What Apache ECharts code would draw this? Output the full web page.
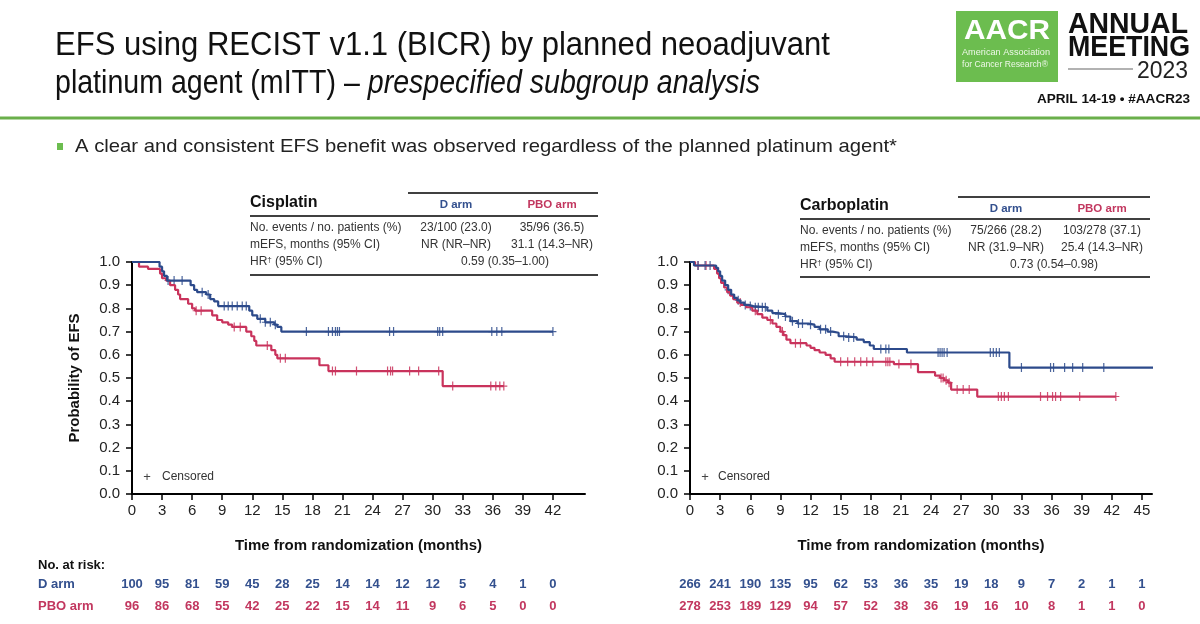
<!DOCTYPE html>
<html>
<head>
<meta charset="utf-8">
<script src="https://cdn.jsdelivr.net/npm/echarts@6/dist/echarts.min.js"></script>
<style>
  html, body { margin: 0; padding: 0; background: #fff; }
  #main { width: 1200px; height: 624px; }
</style>
</head>
<body>
<div id="main"></div>
<script>
// ---- data ----
// Cisplatin subgroup
var cisD_t = [0, 2.75, 3.0, 3.2, 3.5, 5.85, 6.2, 6.5, 7.4, 7.8, 8.2, 8.6, 11.7, 12.0, 12.5, 13.3, 14.2, 14.5, 14.9, 42.0];
var cisD_s = [1.0, 0.98, 0.96, 0.94, 0.92, 0.90, 0.88, 0.87, 0.86, 0.84, 0.83, 0.81, 0.79, 0.77, 0.755, 0.74, 0.73, 0.72, 0.70, 0.70];
var cisP_t = [0, 0.7, 1.6, 2.8, 3.0, 3.4, 3.8, 4.3, 4.6, 4.8, 5.6, 6.0, 6.3, 8.0, 8.5, 9.0, 9.6, 10.0, 11.4, 11.9, 12.2, 12.4, 13.9, 14.3, 14.5, 18.7, 19.6, 31.0, 37.1];
var cisP_s = [1.0, 0.98, 0.97, 0.95, 0.93, 0.92, 0.90, 0.88, 0.86, 0.84, 0.82, 0.80, 0.79, 0.77, 0.75, 0.74, 0.73, 0.72, 0.70, 0.68, 0.66, 0.64, 0.62, 0.60, 0.585, 0.555, 0.53, 0.465, 0.465];
var cisD_cens = [3.6, 4.2, 5.0, 7.0, 7.6, 9.2, 9.6, 10.0, 10.5, 11.0, 11.4, 12.8, 13.3, 13.8, 14.3, 17.4, 19.6, 20.0, 20.3, 20.5, 20.7, 25.7, 26.1, 30.5, 30.7, 31.0, 35.9, 36.4, 36.9, 42.0];
var cisP_cens = [6.4, 6.9, 10.2, 10.8, 13.5, 14.8, 15.3, 20.0, 20.3, 22.4, 25.5, 25.8, 26.0, 27.7, 28.6, 30.6, 32.0, 35.8, 36.3, 36.7, 37.1];
var cisD_risk = [100, 95, 81, 59, 45, 28, 25, 14, 14, 12, 12, 5, 4, 1, 0];
var cisP_risk = [96, 86, 68, 55, 42, 25, 22, 15, 14, 11, 9, 6, 5, 0, 0];

// Carboplatin subgroup
var carD_t = [0, 0.4, 2.6, 2.8, 3.0, 3.2, 3.5, 3.8, 4.1, 4.4, 4.7, 5.0, 5.4, 5.8, 6.3, 7.7, 8.2, 8.8, 9.5, 10.0, 10.7, 11.8, 12.4, 12.9, 13.7, 14.2, 14.8, 15.5, 16.6, 17.3, 17.9, 18.3, 21.6, 31.8, 46.1];
var carD_s = [1.0, 0.985, 0.975, 0.96, 0.94, 0.92, 0.90, 0.88, 0.86, 0.845, 0.835, 0.825, 0.815, 0.81, 0.805, 0.79, 0.78, 0.775, 0.765, 0.745, 0.735, 0.73, 0.72, 0.71, 0.70, 0.695, 0.68, 0.675, 0.665, 0.655, 0.64, 0.625, 0.61, 0.545, 0.545];
var carP_t = [0, 0.5, 2.4, 2.7, 2.9, 3.1, 3.4, 3.7, 4.0, 4.3, 4.7, 5.1, 5.6, 6.2, 6.7, 7.2, 7.7, 8.2, 8.6, 9.0, 9.3, 9.6, 10.0, 11.6, 12.0, 12.4, 12.9, 13.5, 14.0, 14.4, 20.3, 22.7, 24.4, 24.9, 25.3, 25.7, 26.0, 28.6, 42.4];
var carP_s = [1.0, 0.985, 0.97, 0.95, 0.93, 0.91, 0.89, 0.87, 0.855, 0.84, 0.825, 0.815, 0.805, 0.79, 0.775, 0.76, 0.75, 0.735, 0.72, 0.70, 0.685, 0.665, 0.65, 0.64, 0.63, 0.62, 0.61, 0.60, 0.585, 0.57, 0.56, 0.525, 0.51, 0.50, 0.49, 0.48, 0.45, 0.42, 0.42];
var carD_cens = [0.8, 1.5, 2.0, 3.8, 4.8, 5.5, 6.0, 6.5, 6.8, 7.2, 7.5, 8.8, 9.5, 10.2, 10.8, 11.2, 12.0, 13.0, 13.5, 14.0, 15.3, 15.8, 16.3, 19.0, 19.5, 19.8, 24.7, 24.9, 25.1, 25.3, 25.6, 29.9, 30.2, 30.5, 30.8, 33.0, 35.9, 36.2, 37.3, 38.1, 39.1, 41.2, 46.1];
var carP_cens = [0.8, 1.6, 5.0, 6.5, 8.0, 9.2, 10.5, 11.0, 15.0, 15.7, 16.4, 17.0, 17.6, 18.2, 19.5, 19.7, 19.9, 20.8, 22.0, 25.0, 25.2, 25.5, 25.8, 26.6, 27.2, 27.8, 30.7, 31.0, 31.3, 31.7, 34.9, 35.6, 36.1, 36.4, 36.9, 38.8, 42.4];
var carD_risk = [266, 241, 190, 135, 95, 62, 53, 36, 35, 19, 18, 9, 7, 2, 1, 1];
var carP_risk = [278, 253, 189, 129, 94, 57, 52, 38, 36, 19, 16, 10, 8, 1, 1, 0];

var ticksCis = [0, 3, 6, 9, 12, 15, 18, 21, 24, 27, 30, 33, 36, 39, 42];
var ticksCar = [0, 3, 6, 9, 12, 15, 18, 21, 24, 27, 30, 33, 36, 39, 42, 45];

var BLUE = '#2c4a8b';
var RED = '#c9335c';
var BLUE_TXT = '#33508e';
var RED_TXT = '#c2375f';
var FONT = '"Liberation Sans", Arial, sans-serif';

function zip(a, b) {
  return a.map(function (v, i) { return [v, b[i]]; });
}
// survival value in force at time t (for placing censor ticks on the curve)
function stepAt(ts, ss, t) {
  var v = ss[0];
  for (var i = 0; i < ts.length; i++) { if (ts[i] <= t) v = ss[i]; }
  return v;
}

var mctx = document.createElement('canvas').getContext('2d');
function textW(str, font) { mctx.font = font; return mctx.measureText(str).width; }

// text squeezed to the width it takes on the slide
function fitText(str, x, y, font, targetW, fill) {
  return {
    type: 'text', x: x, y: y, scaleX: targetW / textW(str, font),
    style: { text: str, font: font, fill: fill || '#000', textVerticalAlign: 'middle' }
  };
}
function txt(str, x, y, font, fill, align) {
  return {
    type: 'text', x: x, y: y,
    style: { text: str, font: font, fill: fill || '#333', textAlign: align || 'left', textVerticalAlign: 'middle' }
  };
}
function hline(x1, x2, y, w, c) {
  return { type: 'line', shape: { x1: x1, y1: y, x2: x2, y2: y }, style: { stroke: c || '#000', lineWidth: w || 1.5 } };
}

var chart = echarts.init(document.getElementById('main'));

var PLUS = 'path://M4.4,0h1.2v10h-1.2z M1.5,4.4h7v1.2h-7z';

function kmSeries(xi, ts, ss, cens, color) {
  return [{
    type: 'line', xAxisIndex: xi, yAxisIndex: xi === 0 ? 0 : 1,
    step: 'end', symbol: 'none', data: zip(ts, ss),
    lineStyle: { color: color, width: 2.2 }, silent: true
  }, {
    type: 'scatter', xAxisIndex: xi, yAxisIndex: xi === 0 ? 0 : 1,
    symbol: PLUS, symbolSize: [7, 9],
    data: cens.map(function (t) { return [t, stepAt(ts, ss, t)]; }),
    itemStyle: { color: color, opacity: 0.85 }, silent: true
  }];
}

function mainX(gi, max, ticks, nameGap) {
  return {
    type: 'value', gridIndex: gi, position: 'bottom', min: 0, max: max, interval: 3,
    axisLine: { lineStyle: { color: '#000', width: 2 } },
    axisTick: { length: 6, lineStyle: { color: '#000', width: 1.5 }, customValues: ticks },
    axisLabel: { customValues: ticks, fontSize: 15, color: '#222', margin: 9, fontFamily: FONT },
    splitLine: { show: false },
    name: 'Time from randomization (months)', nameLocation: 'middle', nameGap: nameGap,
    nameTextStyle: { fontSize: 15, fontWeight: 'bold', color: '#111', fontFamily: FONT }
  };
}
// number-at-risk rows, drawn as label-only axes below the time axis
function riskX(gi, max, ticks, counts, offset, color) {
  return {
    type: 'value', gridIndex: gi, position: 'bottom', min: 0, max: max, interval: 3, offset: offset,
    axisLine: { show: false }, axisTick: { show: false }, splitLine: { show: false },
    axisLabel: {
      customValues: ticks, margin: 0, fontSize: 13, fontWeight: 'bold', color: color, fontFamily: FONT,
      formatter: function (v) { return String(counts[Math.round(v / 3)]); }
    }
  };
}
function mainY(gi, name) {
  return {
    type: 'value', gridIndex: gi, min: 0, max: 1, interval: 0.1,
    axisLine: { show: true, lineStyle: { color: '#000', width: 2 } },
    axisTick: { show: true, length: 6, lineStyle: { color: '#000', width: 1.5 } },
    axisLabel: { fontSize: 15, color: '#222', margin: 12, fontFamily: FONT,
      formatter: function (v) { return v.toFixed(1); } },
    splitLine: { show: false },
    name: name, nameLocation: 'middle', nameGap: 50,
    nameTextStyle: { fontSize: 15, fontWeight: 'bold', color: '#111', fontFamily: FONT }
  };
}

var tfont = '12px ' + FONT;
var graphics = [
  // slide header
  fitText('EFS using RECIST v1.1 (BICR) by planned neoadjuvant', 55, 46, '34px ' + FONT, 775, '#111'),
  (function () {
    var f1 = '34px ' + FONT, f2 = 'italic 34px ' + FONT;
    var a = 'platinum agent (mITT) \u2013 ', b = 'prespecified subgroup analysis';
    return {
      type: 'text', x: 55, y: 84, scaleX: 705 / (textW(a, f1) + textW(b, f2)),
      style: { text: '{n|' + a + '}{i|' + b + '}', textVerticalAlign: 'middle', fill: '#111',
        rich: { n: { font: f1, fill: '#111' }, i: { font: f2, fill: '#111' } } }
    };
  })(),
  { type: 'rect', shape: { x: 956, y: 11, width: 102, height: 71 }, style: { fill: '#6cbd4f' } },
  fitText('AACR', 964, 31, 'bold 28px ' + FONT, 86, '#fff'),
  fitText('American Association', 962, 53, '9px ' + FONT, 88, '#eef8e8'),
  fitText('for Cancer Research\u00ae', 962, 65, '9px ' + FONT, 86, '#eef8e8'),
  fitText('ANNUAL', 1068, 25, 'bold 29px ' + FONT, 120, '#111'),
  fitText('MEETING', 1068, 48, 'bold 29px ' + FONT, 122, '#111'),
  hline(1068, 1133, 69, 1.5, '#999'),
  fitText('2023', 1137, 71, '24px ' + FONT, 51, '#222'),
  fitText('APRIL 14-19 \u2022 #AACR23', 1037, 100, 'bold 12px ' + FONT, 153, '#111'),
  { type: 'rect', shape: { x: 0, y: 116.5, width: 1200, height: 3 }, style: { fill: '#6aaf4b' } },
  { type: 'rect', shape: { x: 57, y: 143, width: 6, height: 7 }, style: { fill: '#6cbd4f' } },
  fitText('A clear and consistent EFS benefit was observed regardless of the planned platinum agent*', 75, 147, '19px ' + FONT, 822, '#222'),

  // cisplatin table
  hline(408, 598, 193),
  txt('Cisplatin', 250, 203, 'bold 16px ' + FONT, '#111'),
  txt('D arm', 456, 205, 'bold 11.5px ' + FONT, BLUE_TXT, 'center'),
  txt('PBO arm', 552, 205, 'bold 11.5px ' + FONT, RED_TXT, 'center'),
  hline(250, 598, 216),
  txt('No. events / no. patients (%)', 250, 228, tfont),
  txt('23/100 (23.0)', 456, 228, tfont, '#333', 'center'),
  txt('35/96 (36.5)', 552, 228, tfont, '#333', 'center'),
  txt('mEFS, months (95% CI)', 250, 245, tfont),
  txt('NR (NR\u2013NR)', 456, 245, tfont, '#333', 'center'),
  txt('31.1 (14.3\u2013NR)', 552, 245, tfont, '#333', 'center'),
  { type: 'text', x: 250, y: 262, style: { text: 'HR{s|\u2020} (95% CI)', font: tfont, fill: '#333', textVerticalAlign: 'middle',
    rich: { s: { font: '8px ' + FONT, fill: '#333', verticalAlign: 'top' } } } },
  txt('0.59 (0.35\u20131.00)', 505, 262, tfont, '#333', 'center'),
  hline(250, 598, 275),

  // carboplatin table
  hline(958, 1150, 197),
  txt('Carboplatin', 800, 206, 'bold 16px ' + FONT, '#111'),
  txt('D arm', 1006, 209, 'bold 11.5px ' + FONT, BLUE_TXT, 'center'),
  txt('PBO arm', 1102, 209, 'bold 11.5px ' + FONT, RED_TXT, 'center'),
  hline(800, 1150, 219),
  txt('No. events / no. patients (%)', 800, 231, tfont),
  txt('75/266 (28.2)', 1006, 231, tfont, '#333', 'center'),
  txt('103/278 (37.1)', 1102, 231, tfont, '#333', 'center'),
  txt('mEFS, months (95% CI)', 800, 248, tfont),
  txt('NR (31.9\u2013NR)', 1006, 248, tfont, '#333', 'center'),
  txt('25.4 (14.3\u2013NR)', 1102, 248, tfont, '#333', 'center'),
  { type: 'text', x: 800, y: 265, style: { text: 'HR{s|\u2020} (95% CI)', font: tfont, fill: '#333', textVerticalAlign: 'middle',
    rich: { s: { font: '8px ' + FONT, fill: '#333', verticalAlign: 'top' } } } },
  txt('0.73 (0.54\u20130.98)', 1054, 265, tfont, '#333', 'center'),
  hline(800, 1150, 277),

  // censored keys
  txt('+', 147, 477, '13px ' + FONT, '#444', 'center'),
  txt('Censored', 162, 477, tfont, '#333'),
  txt('+', 705, 477, '13px ' + FONT, '#444', 'center'),
  txt('Censored', 718, 477, tfont, '#333'),

  // at-risk row labels
  txt('No. at risk:', 38, 565, 'bold 13px ' + FONT, '#111'),
  txt('D arm', 38, 584, 'bold 13px ' + FONT, BLUE_TXT),
  txt('PBO arm', 38, 606, 'bold 13px ' + FONT, RED_TXT)
];

var option = {
  animation: false,
  backgroundColor: '#fff',
  textStyle: { fontFamily: FONT },
  grid: [
    { left: 132, top: 262, width: 453, height: 232 },
    { left: 690, top: 262, width: 462, height: 232 }
  ],
  xAxis: [
    mainX(0, 45.2, ticksCis, 44),
    riskX(0, 45.2, ticksCis, cisD_risk, 84, BLUE_TXT),
    riskX(0, 45.2, ticksCis, cisP_risk, 106, RED_TXT),
    mainX(1, 46.0, ticksCar, 44),
    riskX(1, 46.0, ticksCar, carD_risk, 84, BLUE_TXT),
    riskX(1, 46.0, ticksCar, carP_risk, 106, RED_TXT)
  ],
  yAxis: [mainY(0, 'Probability of EFS'), mainY(1, '')],
  series: []
    .concat(kmSeries(0, cisP_t, cisP_s, cisP_cens, RED))
    .concat(kmSeries(0, cisD_t, cisD_s, cisD_cens, BLUE))
    .concat(kmSeries(3, carP_t, carP_s, carP_cens, RED))
    .concat(kmSeries(3, carD_t, carD_s, carD_cens, BLUE)),
  graphic: { elements: graphics }
};

chart.setOption(option);
</script>
</body>
</html>
